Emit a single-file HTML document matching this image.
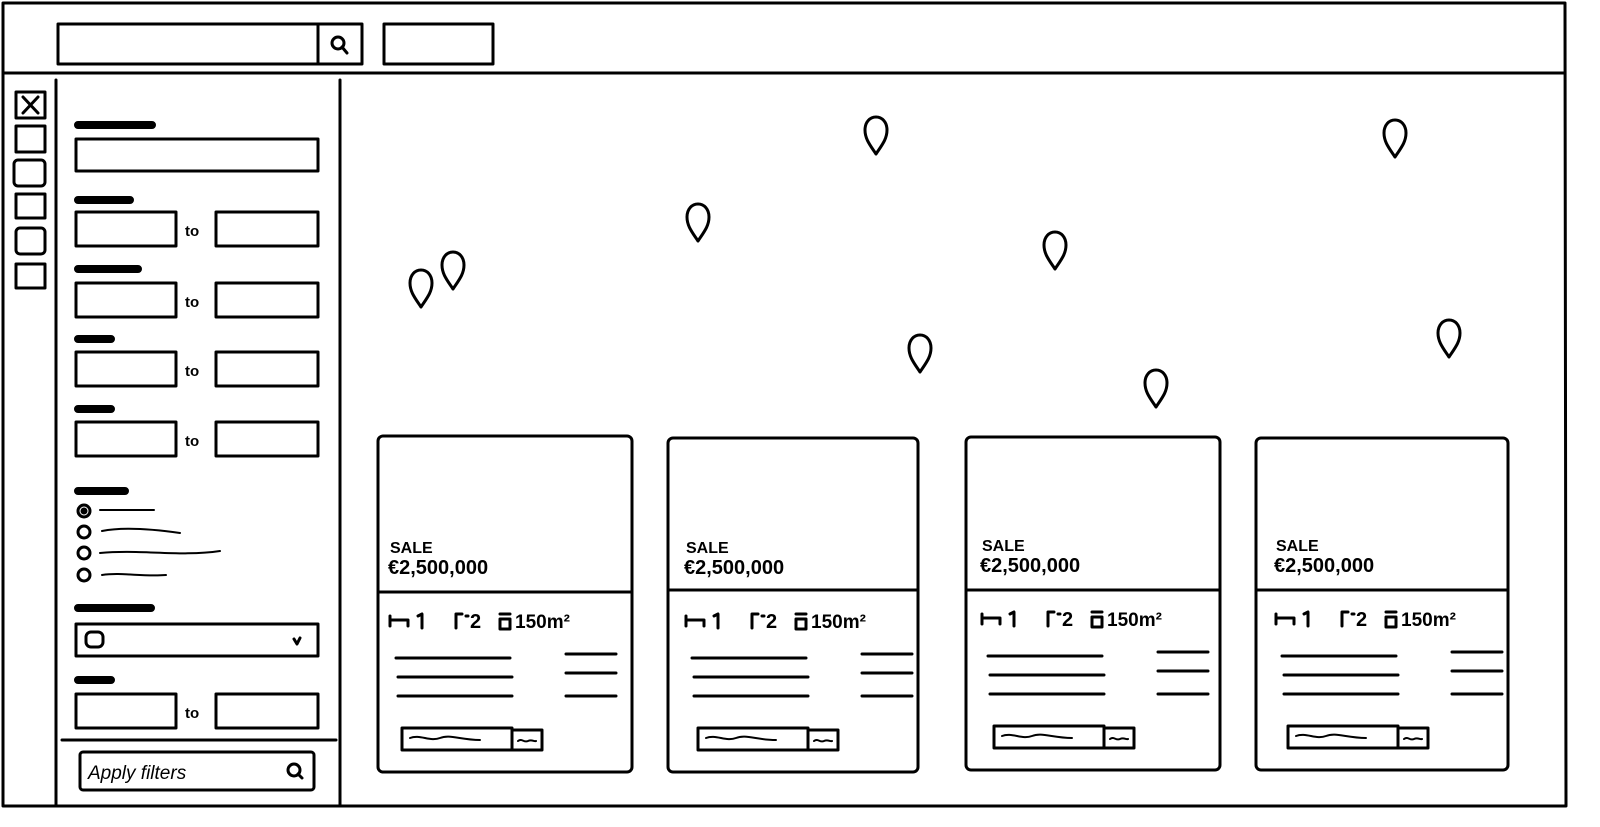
<!DOCTYPE html>
<html><head><meta charset="utf-8"><style>
html,body{margin:0;padding:0;background:#fff;width:1600px;height:827px;overflow:hidden}
svg{display:block}
text{font-family:"Liberation Sans",sans-serif;fill:#000}
</style></head><body>
<svg width="1600" height="827" viewBox="0 0 1600 827" fill="none" stroke="#000" stroke-width="3" stroke-linecap="round" stroke-linejoin="round">
<defs>
<path id="pin" d="M0,19 C-6,10 -11,4 -11,-5 C-11,-13 -6,-18 0,-18 C6,-18 11,-13 11,-5 C11,4 6,10 0,19 Z"/>
<g id="card">
<text x="10" y="117" font-size="16" font-weight="bold" stroke="none">SALE</text>
<text x="8" y="138" font-size="20" font-weight="bold" stroke="none">€2,500,000</text>
<path d="M10,180 v10 M10,184 h18 v6 M38,180 l4,-2 v14"/>
<path d="M76,192 v-14 h6 M86,180 h2"/>
<text x="90" y="192" font-size="20" font-weight="bold" stroke="none">2</text>
<path d="M120,178 h10 M120,183 h10 v10 h-10 z"/>
<text x="135" y="192" font-size="19" font-weight="bold" stroke="none">150m²</text>
<path d="M16,222 h114 M18,241 h114 M18,260 h114 M186,218 h50 M186,237 h50 M186,260 h50"/>
<rect x="22" y="292" width="110" height="22"/>
<rect x="132" y="294" width="30" height="20"/>
<path d="M30,302 c10,-4 20,4 30,0 s20,2 40,2 M138,305 c4,-3 6,2 10,0 s6,1 8,0" stroke-width="2"/>
</g>
<g id="range">
<rect x="0" y="0" width="100" height="34"/>
<rect x="140" y="0" width="102" height="34"/>
<text x="109" y="24" font-size="15" font-weight="bold" stroke="none">to</text>
</g>
</defs>
<path d="M3,3 L1565,3 L1566,806 L3,806 Z"/>
<path d="M3,73 H1565"/>
<rect x="58" y="24" width="304" height="40"/>
<path d="M318,24 V64"/>
<circle cx="338" cy="43" r="6"/><path d="M342,47 l5,6"/>
<rect x="384" y="24" width="109" height="40"/>
<path d="M56,80 V806 M340,80 V806 M62,740 H336"/>
<rect x="16" y="92" width="29" height="26"/><path d="M23,97 l15,16 M38,97 l-15,16"/>
<rect x="16" y="126" width="29" height="26"/>
<rect x="14" y="160" width="31" height="26" rx="4"/>
<rect x="16" y="194" width="29" height="24"/>
<rect x="16" y="228" width="29" height="26" rx="4"/>
<rect x="16" y="264" width="29" height="24"/>
<g stroke-width="8">
<path d="M78,125 H152 M78,200 H130 M78,269 H138 M78,339 H111 M78,409 H111 M78,491 H125 M78,608 H151 M78,680 H111"/>
</g>
<rect x="76" y="139" width="242" height="32"/>
<use href="#range" x="76" y="212"/>
<use href="#range" x="76" y="283"/>
<use href="#range" x="76" y="352"/>
<use href="#range" x="76" y="422"/>
<circle cx="84" cy="511" r="6"/><circle cx="84" cy="511" r="2" fill="#000"/>
<circle cx="84" cy="532" r="6"/><circle cx="84" cy="553" r="6"/><circle cx="84" cy="575" r="6"/>
<path d="M100,510 H154 M102,531 c20,-4 50,-2 78,2 M100,553 c40,-4 80,4 120,-2 M102,575 c20,-3 40,2 64,0" stroke-width="2"/>
<rect x="76" y="624" width="242" height="32"/>
<rect x="86" y="632" width="17" height="15" rx="5"/>
<path d="M294,639 l3,5 l3,-6"/>
<use href="#range" x="76" y="694"/>
<rect x="80" y="752" width="234" height="38" rx="3"/>
<text x="88" y="779" font-size="19" stroke="none" font-style="italic">Apply filters</text>
<circle cx="294" cy="770" r="6"/><path d="M298,774 l4,4"/>
<use href="#pin" x="421" y="288"/><use href="#pin" x="453" y="270"/>
<use href="#pin" x="698" y="222"/><use href="#pin" x="876" y="135"/>
<use href="#pin" x="920" y="353"/><use href="#pin" x="1055" y="250"/>
<use href="#pin" x="1156" y="388"/><use href="#pin" x="1395" y="138"/>
<use href="#pin" x="1449" y="338"/>
<rect x="378" y="436" width="254" height="336" rx="5"/><path d="M378,592 H632"/>
<use href="#card" x="380" y="436"/>
<rect x="668" y="438" width="250" height="334" rx="5"/><path d="M668,590 H918"/>
<use href="#card" x="676" y="436"/>
<rect x="966" y="437" width="254" height="333" rx="5"/><path d="M966,590 H1220"/>
<use href="#card" x="972" y="434"/>
<rect x="1256" y="438" width="252" height="332" rx="5"/><path d="M1256,590 H1508"/>
<use href="#card" x="1266" y="434"/>
</svg>
</body></html>
